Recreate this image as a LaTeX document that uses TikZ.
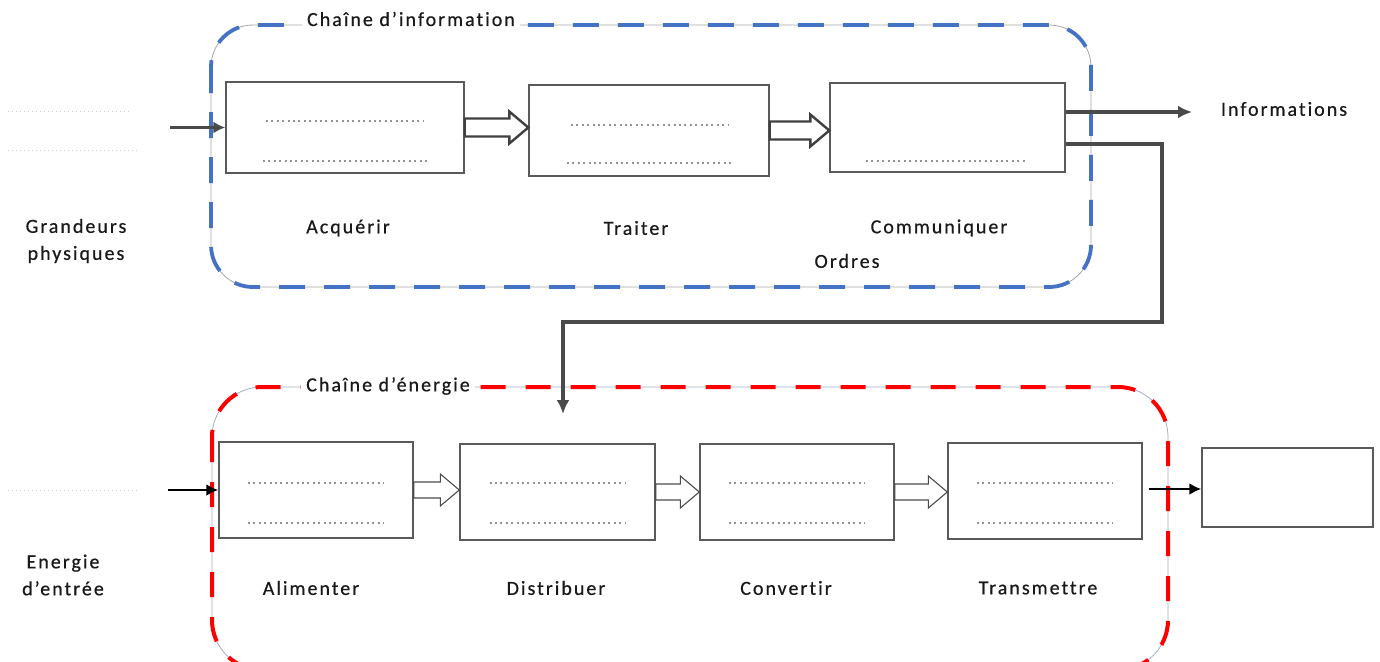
\documentclass[tikz,border=0pt]{standalone}
\usepackage{fontspec}
\setmainfont{Carlito}[LetterSpace=10, Ligatures=NoCommon, FakeBold=0.5]
\usetikzlibrary{calc,arrows.meta}
\definecolor{bluec}{HTML}{4472C4}
\definecolor{redc}{HTML}{FF0000}
\definecolor{linec}{HTML}{4A4A4A}
\definecolor{boxc}{HTML}{5A5A5A}
\tikzset{
  blk/.style={draw=boxc, line width=1.4pt, fill=white, minimum width=#1, inner sep=0pt},
  lbl/.style={font=\fontsize{20}{27}\selectfont, text=black!90, inner sep=1pt},
  dotl/.style={draw=gray!85, line width=1.7pt, dash pattern=on 2pt off 3.4pt},
  faintdot/.style={draw=gray!40, line width=0.9pt, dash pattern=on 1pt off 3pt},
  conn/.style={draw=linec, line width=3.4pt, -{Latex[length=14pt,width=13pt]}},
  inarrow/.style={draw=black, line width=2.8pt, -{Latex[length=12pt,width=12pt]}},
  hollowtop/.style={draw=black!75, line width=2.4pt, fill=white, line join=miter},
  hollowbot/.style={draw=black!70, line width=1.1pt, fill=white},
}
\newcommand\harrow[4]{% style, from, to, shaft half height
  \draw[#1] let \p1=(#2.east), \p2=(#3.west), \n1={#4} in
   (\x1,\y1+\n1 pt) -- (\x2-19pt,\y1+\n1 pt) -- (\x2-19pt,\y1+16pt) -- (\x2,\y1)
   -- (\x2-19pt,\y1-16pt) -- (\x2-19pt,\y1-\n1 pt) -- (\x1,\y1-\n1 pt) -- cycle;}
\begin{document}
\begin{tikzpicture}[x=1pt,y=-1pt]
\useasboundingbox (0,0) rectangle (1380,661);

% ---- chain frames
\draw[gray!70, line width=0.8pt, rounded corners=42pt] (211,25) rectangle (1091,287);
\draw[bluec, line width=3.8pt, dash pattern=on 26pt off 19pt, rounded corners=42pt] (211,25) rectangle (1091,287);
\draw[gray!50!bluec!60, line width=0.8pt, rounded corners=50pt] (212,387) rectangle (1168,670);
\draw[redc, line width=4pt, dash pattern=on 25pt off 20pt, rounded corners=50pt] (212,387) rectangle (1168,670);

\node[lbl, fill=white, inner sep=5pt] (tinfo) at (411,19) {Chaîne d’information};
\node[lbl, fill=white, inner sep=5pt] (tener) at (388,386) {Chaîne d’énergie};

% ---- top boxes
\node[blk=238pt, minimum height=91pt] (acq) at (345,127.5) {};
\node[blk=240pt, minimum height=91pt] (tra) at (649,130.5) {};
\node[blk=235pt, minimum height=89pt] (com) at (947.5,127.5) {};

\draw[dotl] (266,121) -- (424,121);
\draw[dotl] (263,161) -- (428,161);
\draw[dotl] (571,125) -- (728,125);
\draw[dotl] (567,163) -- (731,163);
\draw[dotl] (866,161) -- (1027,161);

\harrow{hollowtop}{acq}{tra}{9}
\harrow{hollowtop}{tra}{com}{9}

\node[lbl] (lacq) at (348,228) {Acquérir};
\node[lbl] (ltra) at (636,228) {Traiter};
\node[lbl] (lcom) at (939,228) {Communiquer};
\node[lbl] (lord) at (847,261) {Ordres};

% ---- left inputs top
\draw[faintdot] (8,111) -- (132,111);
\draw[faintdot] (8,150) -- (137,150);
\coordinate (gin) at (170,127.5);
\draw[draw=linec, line width=3pt, -{Latex[length=12pt,width=12pt]}] (gin) -- (acq.west);
\node[lbl, align=center] (lgr) at (76,241) {Grandeurs\\physiques};

% ---- outputs of Communiquer
\node[lbl] (linfo) at (1284,109) {Informations};
\coordinate (oinfo) at (1192,112);
\draw[conn] ([yshift=15.5pt]com.east) -- (oinfo);
\coordinate (oord) at (563,414);
\draw[conn, line join=miter] ([yshift=-16.5pt]com.east) -- (1162,144) -- (1162,322) -- (563,322) -- (oord);

% ---- bottom boxes
\node[blk=194pt, minimum height=96pt] (ali) at (316,490) {};
\node[blk=195pt, minimum height=96pt] (dis) at (557.5,492) {};
\node[blk=194pt, minimum height=96pt] (con) at (797,492) {};
\node[blk=194pt, minimum height=96pt] (trn) at (1045,491) {};
\node[blk=171pt, minimum height=79pt] (out) at (1287.5,487.5) {};

\foreach \cx in {316,557.5,797,1045}{
  \draw[dotl, line width=1.5pt] (\cx-68,483) -- (\cx+68,483);
  \draw[dotl, line width=1.5pt] (\cx-68,523) -- (\cx+68,523);
}

\harrow{hollowbot}{ali}{dis}{8}
\harrow{hollowbot}{dis}{con}{8}
\harrow{hollowbot}{con}{trn}{8}

\node[lbl] (lali) at (311,588) {Alimenter};
\node[lbl] (ldis) at (556,588) {Distribuer};
\node[lbl] (lcon) at (786,588) {Convertir};
\node[lbl] (ltrn) at (1038,588) {Transmettre};

\draw[faintdot] (8,490) -- (138,490);
\coordinate (ein) at (168,490);
\draw[inarrow] (ein) -- (ali.west);
\node[lbl, align=center] (len) at (63,575) {Energie\\d’entrée};

\draw[inarrow] ([xshift=6pt,yshift=2pt]trn.east) -- ([yshift=2pt]trn.east -| out.west);
\end{tikzpicture}
\end{document}
